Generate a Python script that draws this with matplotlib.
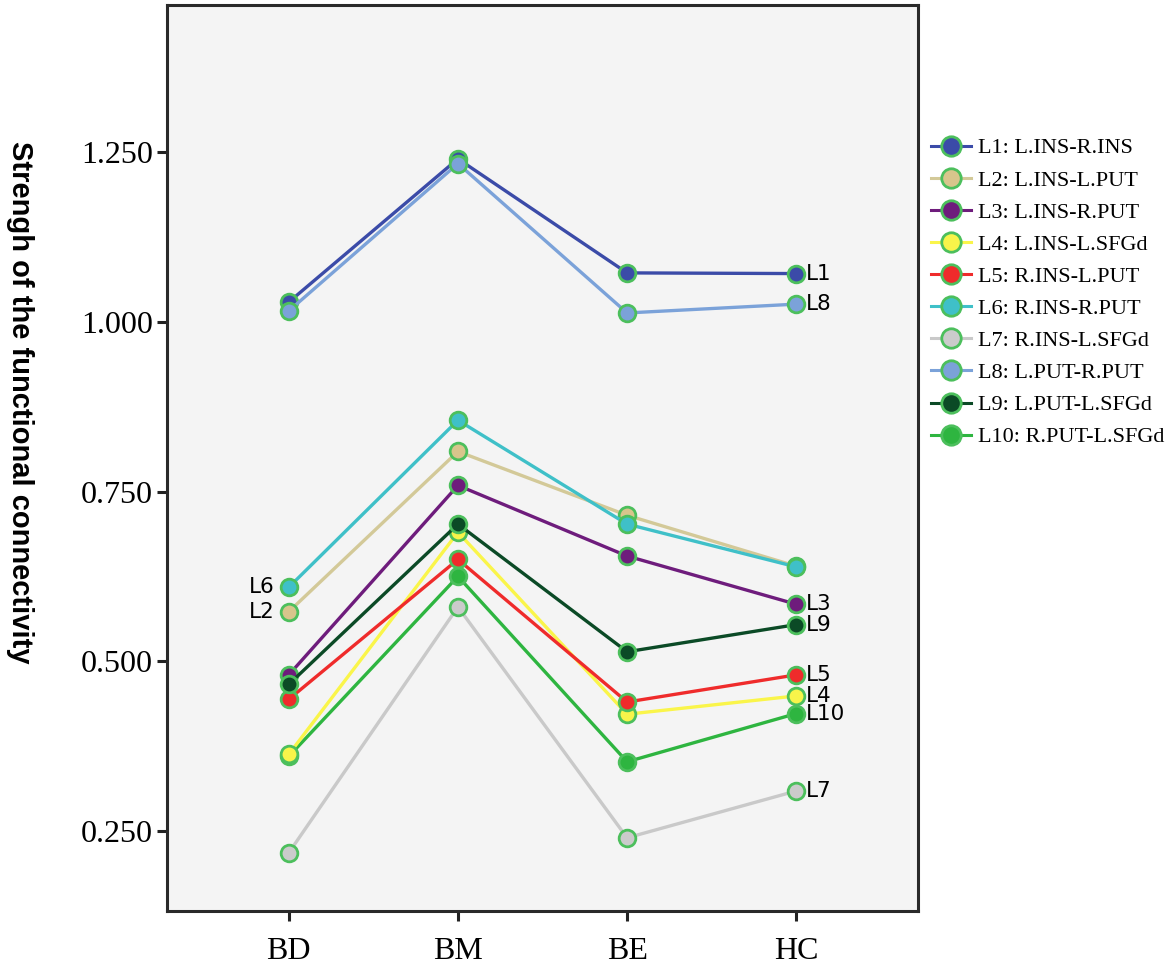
import matplotlib
matplotlib.use("Agg")
import matplotlib.pyplot as plt
from matplotlib import font_manager
from matplotlib.lines import Line2D

# ================================
# dados
# ================================
groups = ["BD", "BM", "BE", "HC"]

series_names = ["L1: L.INS-R.INS", "L2: L.INS-L.PUT", "L3: L.INS-R.PUT", "L4: L.INS-L.SFGd",
                "L5: R.INS-L.PUT", "L6: R.INS-R.PUT", "L7: R.INS-L.SFGd", "L8: L.PUT-R.PUT",
                "L9: L.PUT-L.SFGd", "L10: R.PUT-L.SFGd"]
short_names = ["L1", "L2", "L3", "L4", "L5", "L6", "L7", "L8", "L9", "L10"]

L1 = [1.029, 1.240, 1.072, 1.071]
L2 = [0.573, 0.809, 0.715, 0.640]
L3 = [0.480, 0.759, 0.655, 0.584]
L4 = [0.363, 0.690, 0.422, 0.449]
L5 = [0.444, 0.650, 0.440, 0.480]
L6 = [0.609, 0.855, 0.702, 0.639]
L7 = [0.218, 0.580, 0.240, 0.309]
L8 = [1.016, 1.233, 1.013, 1.026]
L9 = [0.466, 0.702, 0.514, 0.554]
L10 = [0.360, 0.625, 0.352, 0.423]
values = [L1, L2, L3, L4, L5, L6, L7, L8, L9, L10]

colors = ["#3b4ba8", "#d3c998", "#6e1c7c", "#faf54a", "#ef2b2b",
          "#3fc0c8", "#c9c9c9", "#7ba2d9", "#0b4a26", "#2eb540"]
face_colors = ["#3b4ba8", "#d8c58c", "#6e1c7c", "#f8f44a", "#ef2b2b",
               "#3fc0c8", "#cbcbcb", "#7ba2d9", "#0b4a26", "#2eb540"]
edge_green = "#4cbf5c"

# rótulos ao lado dos pontos
left_labels = ["L6", "L2"]                     # em BD
right_labels = ["L1", "L8", "L3", "L9", "L5", "L4", "L10", "L7"]  # em HC

# ================================
# fontes
# ================================
names = {f.name for f in font_manager.fontManager.ttflist}
serif = "Liberation Serif" if "Liberation Serif" in names else "DejaVu Serif"
narrow = "Liberation Sans Narrow" if "Liberation Sans Narrow" in names else "Liberation Sans"

# ================================
# gráfico
# ================================
fig = plt.figure(figsize=(11.72, 9.67), dpi=100)
ax = fig.add_axes([0.1425, 0.0579, 0.7833 - 0.1425, 0.9948 - 0.0579])
ax.set_facecolor("#f4f4f4")

x = list(range(len(groups)))
for i, (name, vals) in enumerate(zip(series_names, values)):
    z = 1.5 if short_names[i] == "L10" else 2
    ax.plot(x, vals, "-o", color=colors[i], lw=2.4, markersize=12,
            markerfacecolor=face_colors[i], markeredgecolor=edge_green,
            markeredgewidth=2, label=name, zorder=z)

for lab in left_labels:
    i = short_names.index(lab)
    ax.annotate(lab, (0, values[i][0]), xytext=(-10, 0), textcoords="offset points",
                ha="right", va="center", fontsize=15.5, family="DejaVu Sans")
for lab in right_labels:
    i = short_names.index(lab)
    ax.annotate(lab, (3, values[i][3]), xytext=(7, 0), textcoords="offset points",
                ha="left", va="center", fontsize=15.5, family="DejaVu Sans")

ax.set_xlim(-0.72, 3.72)
ax.set_ylim(0.1322, 1.4665)
ax.set_xticks(x)
ax.set_xticklabels(groups, family=serif, fontsize=23)
ax.set_yticks([0.25, 0.5, 0.75, 1.0, 1.25])
ax.set_yticklabels(["0.250", "0.500", "0.750", "1.000", "1.250"], family=serif, fontsize=23)
ax.tick_params(axis="both", length=7, width=2.2, color="#222222", pad=3)
ax.tick_params(axis="x", pad=12)
for s in ax.spines.values():
    s.set_linewidth(2.2)
    s.set_color("#2a2a2a")

fig.text(0.017, 0.584, "Strengh of the functional connectivity", rotation=270,
         ha="center", va="center", fontsize=21, fontweight="bold", family=narrow)

handles = [Line2D([], [], color=colors[i], lw=2.2, marker="o", markersize=14,
                  markerfacecolor=face_colors[i], markeredgecolor=edge_green,
                  markeredgewidth=2) for i in range(len(series_names))]
fig.legend(handles, series_names, loc="upper left", bbox_to_anchor=(0.787, 0.8666),
           frameon=False, prop={"family": serif, "size": 16}, handlelength=1.8,
           handletextpad=0.3, labelspacing=0.52, borderaxespad=0)

fig.savefig("out.png", dpi=100)
plt.close(fig)
